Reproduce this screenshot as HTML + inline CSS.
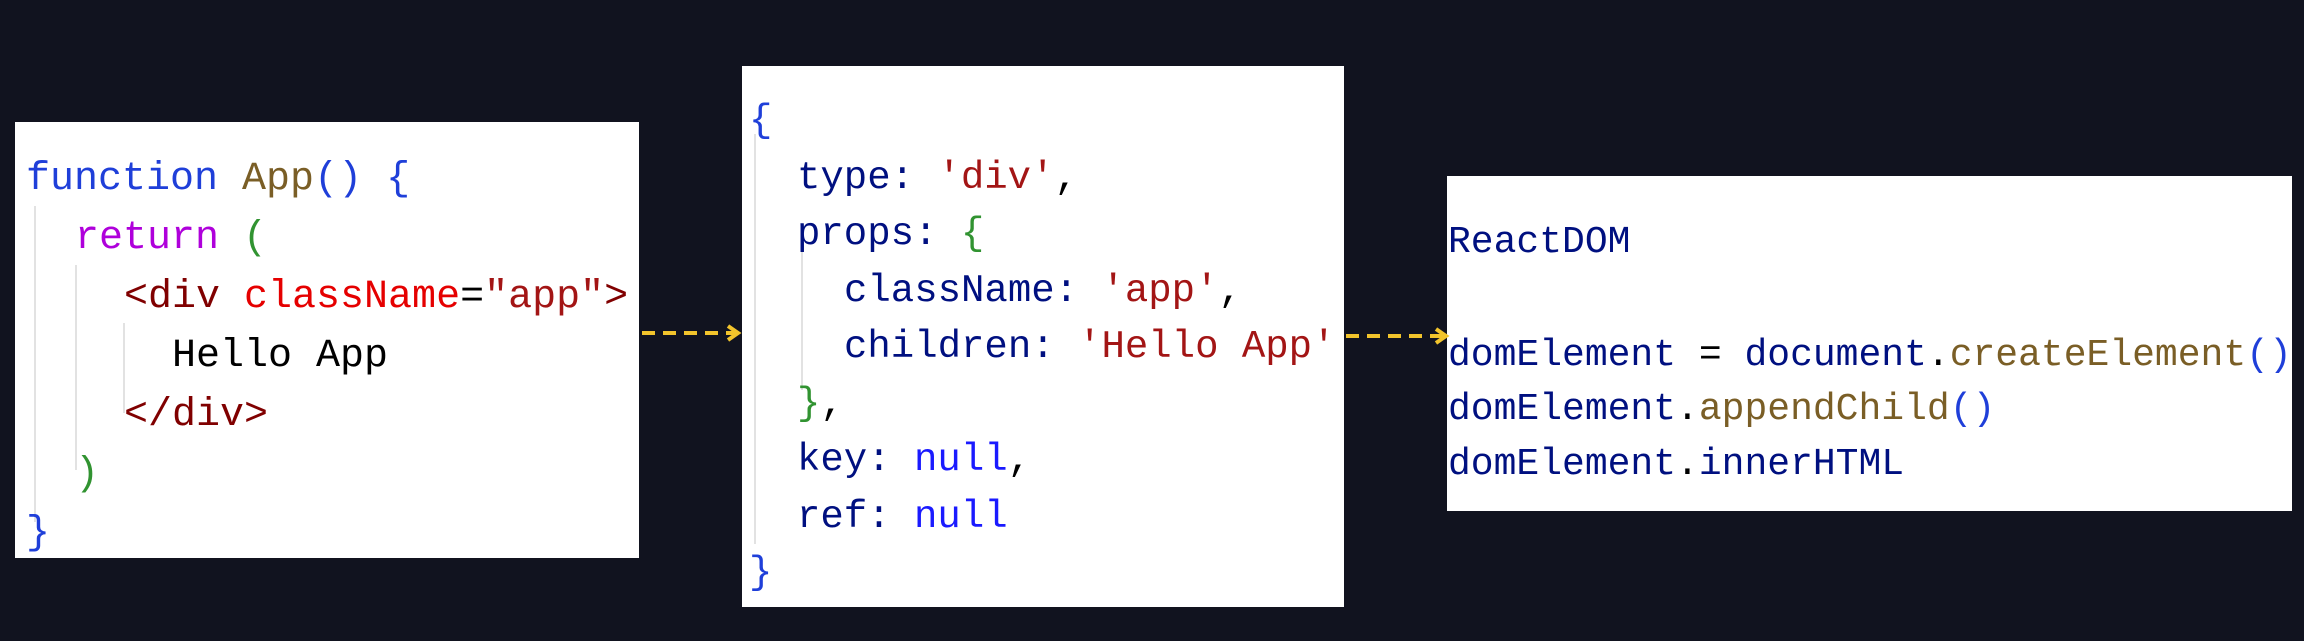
<!DOCTYPE html>
<html><head><meta charset="utf-8"><style>
html,body{margin:0;padding:0;background:#11131f;width:2304px;height:641px;overflow:hidden;position:relative}
.box{position:absolute;background:#fff}
.l{position:absolute;white-space:pre;font-family:"Liberation Mono",monospace;color:#001080;line-height:1}
.kw{color:#1f3fd9}.fn{color:#7a5e26}.rt{color:#af00db}.gp{color:#319331}
.tg{color:#800000}.at{color:#e50000}.st{color:#a31515}.id{color:#001080}.nl{color:#1a1aff}.bk{color:#000}
.g{position:absolute;width:2px;background:#e2e2e2}
</style></head><body>
<div class="box" style="left:15px;top:122px;width:624px;height:436px"></div>
<div class="box" style="left:742px;top:66px;width:602px;height:541px"></div>
<div class="box" style="left:1447px;top:176px;width:845px;height:335px"></div>

<div class="g" style="left:34px;top:206px;height:316px"></div>
<div class="g" style="left:75px;top:265px;height:205px"></div>
<div class="g" style="left:123px;top:323px;height:90px"></div>
<div class="g" style="left:754px;top:134px;height:410px"></div>
<div class="g" style="left:801px;top:240px;height:150px"></div>

<div class="l" style="left:26px;top:160px;font-size:40px"><span class="kw">function</span> <span class="fn">App</span><span class="kw">() {</span></div>
<div class="l" style="left:75px;top:219px;font-size:40px"><span class="rt">return</span> <span class="gp">(</span></div>
<div class="l" style="left:124px;top:278px;font-size:40px"><span class="tg">&lt;div</span> <span class="at">className</span><span class="bk">=</span><span class="st">"app"</span><span class="tg">&gt;</span></div>
<div class="l" style="left:172px;top:337px;font-size:40px;color:#000">Hello App</div>
<div class="l" style="left:124px;top:396px;font-size:40px"><span class="tg">&lt;/div&gt;</span></div>
<div class="l" style="left:75px;top:455px;font-size:40px"><span class="gp">)</span></div>
<div class="l" style="left:26px;top:514px;font-size:40px"><span class="kw">}</span></div>

<div class="l" style="left:749px;top:102px;font-size:39px"><span class="kw">{</span></div>
<div class="l" style="left:797px;top:159px;font-size:39px">type: <span class="st">'div'</span><span class="bk">,</span></div>
<div class="l" style="left:797px;top:215px;font-size:39px">props: <span class="gp">{</span></div>
<div class="l" style="left:844px;top:272px;font-size:39px">className: <span class="st">'app'</span><span class="bk">,</span></div>
<div class="l" style="left:844px;top:328px;font-size:39px">children: <span class="st">'Hello App'</span></div>
<div class="l" style="left:797px;top:385px;font-size:39px"><span class="gp">}</span><span class="bk">,</span></div>
<div class="l" style="left:797px;top:441px;font-size:39px">key: <span class="nl">null</span><span class="bk">,</span></div>
<div class="l" style="left:797px;top:498px;font-size:39px">ref: <span class="nl">null</span></div>
<div class="l" style="left:749px;top:554px;font-size:39px"><span class="kw">}</span></div>

<div class="l" style="left:1448px;top:224px;font-size:38px">ReactDOM</div>
<div class="l" style="left:1448px;top:337px;font-size:38px">domElement <span class="bk">=</span> document<span class="bk">.</span><span class="fn">createElement</span><span class="kw">()</span></div>
<div class="l" style="left:1448px;top:391px;font-size:38px">domElement<span class="bk">.</span><span class="fn">appendChild</span><span class="kw">()</span></div>
<div class="l" style="left:1448px;top:446px;font-size:38px">domElement<span class="bk">.</span>innerHTML</div>

<svg width="2304" height="641" style="position:absolute;left:0;top:0">
<g stroke="#f2c42c" stroke-width="4" fill="none">
<line x1="642" y1="333" x2="736" y2="333" stroke-dasharray="13,8"/>
<polyline points="728,326 738,333 728,340"/>
<line x1="1346" y1="336" x2="1444" y2="336" stroke-dasharray="13,8"/>
<polyline points="1436,329 1446,336 1436,343"/>
</g>
</svg>
</body></html>
